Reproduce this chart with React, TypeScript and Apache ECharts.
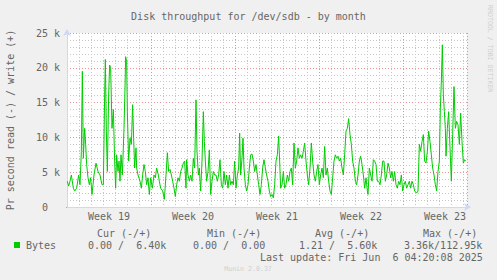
import React, { useEffect, useRef } from "react";
import * as echarts from "echarts";

// Hours since start of the 33.3-day window, value in kB/s (write, +)
const week19: [number, number][] = [
  [0.7, 3.7], [3.3, 3.0], [6.0, 3.7], [8.7, 4.6], [12.7, 2.7], [15.3, 2.3], [19.3, 2.7], [23.3, 4.6], [26.0, 3.2], [28.7, 8.0],
  [30.7, 19.5], [32.7, 7.0], [35.3, 11.3], [37.3, 9.0], [39.3, 6.1], [42.0, 4.2], [44.7, 3.2], [47.3, 4.2], [50.0, 1.8], [54.0, 4.6],
  [58.0, 6.3], [62.0, 5.1], [66.0, 4.6], [70.0, 3.2], [72.7, 3.2], [75.3, 16.1], [76.7, 21.2], [78.7, 10.9], [80.7, 5.1], [83.3, 16.1],
  [85.3, 20.4], [87.3, 20.0], [90.0, 11.3], [92.7, 14.0], [95.3, 6.6], [97.3, 2.7], [99.3, 7.5], [102.0, 5.1], [104.0, 6.6], [106.0, 3.7],
  [108.0, 7.5], [110.7, 4.6], [114.0, 11.3], [116.0, 17.1], [117.3, 21.6], [119.3, 20.9], [120.7, 13.7], [123.3, 6.6], [126.0, 9.9], [128.7, 9.0],
  [131.3, 14.7], [133.3, 9.9], [135.3, 5.6], [138.0, 8.5], [139.3, 5.6], [142.0, 4.6], [146.0, 3.7], [148.7, 2.7], [151.3, 4.6], [154.0, 6.1],
  [156.7, 5.1], [159.3, 3.2], [162.0, 4.2], [164.7, 1.8], [167.3, 4.2],
];
const week20: [number, number][] = [
  [170.7, 2.7], [174.0, 4.6], [176.7, 4.2], [179.3, 5.6], [182.7, 4.6], [184.7, 3.7], [187.3, 2.7], [191.3, 2.3], [194.7, 1.1], [198.0, 4.6],
  [200.7, 7.8], [203.3, 5.1], [206.0, 5.4], [208.7, 4.6], [211.3, 3.7], [214.0, 2.7], [216.7, 1.5], [219.3, 3.2], [222.0, 4.2], [224.7, 3.7],
  [227.3, 5.1], [230.0, 5.6], [232.7, 6.3], [235.3, 6.6], [238.0, 2.7], [239.3, 6.8], [242.0, 4.6], [244.7, 3.7], [247.3, 4.6], [250.0, 3.7],
  [252.7, 7.0], [255.3, 5.6], [258.0, 15.4], [260.0, 8.0], [262.7, 4.6], [264.7, 5.6], [267.3, 2.3], [270.0, 6.6], [272.7, 13.7], [274.7, 9.4],
  [276.7, 6.6], [279.3, 3.7], [282.0, 5.1], [284.7, 8.2], [287.3, 1.8], [290.0, 3.7], [292.7, 5.1], [295.3, 4.6], [298.0, 4.6], [300.7, 3.7],
  [303.3, 4.6], [306.0, 6.8], [308.7, 3.2], [311.3, 2.7], [314.0, 5.1], [316.7, 3.2], [319.3, 4.6], [322.0, 2.7], [324.7, 4.6], [327.3, 3.2],
  [330.0, 3.7], [332.7, 3.2], [335.3, 6.6],
];
const week21: [number, number][] = [
  [338.0, 2.7], [340.7, 4.6], [343.3, 5.6], [345.3, 10.6], [347.3, 4.6], [350.0, 7.0], [352.0, 9.9], [354.0, 5.6], [356.7, 3.2], [359.3, 2.3],
  [362.0, 3.2], [364.7, 5.6], [367.3, 7.5], [370.0, 7.6], [372.7, 6.6], [375.3, 5.1], [378.0, 6.1], [380.7, 4.6], [383.3, 3.2], [386.0, 1.8],
  [388.7, 3.2], [391.3, 5.6], [394.0, 6.8], [396.7, 5.6], [399.3, 4.6], [402.0, 3.7], [404.7, 2.3], [407.3, 1.5], [410.0, 1.8], [412.7, 1.3],
  [415.3, 3.2], [418.0, 6.6], [420.7, 7.5], [423.3, 10.2], [425.3, 6.6], [427.3, 2.7], [430.0, 3.2], [432.7, 5.1], [435.3, 2.7], [438.0, 3.2],
  [440.7, 4.6], [443.3, 3.7], [446.0, 5.1], [448.7, 5.6], [451.3, 3.2], [454.0, 9.2], [456.7, 5.6], [459.3, 6.6], [462.0, 8.5], [464.7, 7.0],
  [467.3, 7.5], [470.0, 7.0], [472.7, 8.0], [475.3, 9.2], [478.0, 6.6], [480.7, 4.6], [483.3, 3.2], [486.0, 5.6], [488.7, 9.2], [491.3, 6.6],
  [494.0, 4.6], [496.7, 3.7], [499.3, 5.1], [502.0, 6.1],
];
const week22: [number, number][] = [
  [504.7, 3.2], [507.3, 4.6], [510.0, 5.6], [512.7, 4.2], [515.3, 8.7], [518.0, 4.6], [520.7, 5.6], [523.3, 3.7], [526.0, 2.3], [528.7, 1.8],
  [531.3, 4.2], [534.0, 6.6], [536.7, 7.5], [539.3, 7.0], [542.0, 7.3], [544.7, 6.6], [547.3, 7.0], [550.0, 5.6], [552.7, 4.6], [555.3, 7.5],
  [558.0, 10.9], [560.7, 11.3], [563.3, 12.7], [566.0, 10.4], [568.7, 9.0], [571.3, 6.6], [574.0, 5.6], [576.7, 3.7], [579.3, 3.2], [582.0, 4.6],
  [584.7, 6.6], [587.3, 7.3], [590.0, 6.1], [592.7, 4.6], [595.3, 2.7], [598.0, 4.2], [600.7, 2.3], [602.0, 1.8], [604.7, 5.6], [607.3, 4.6],
  [610.0, 3.7], [612.7, 6.8], [615.3, 6.6], [618.0, 6.1], [620.7, 3.7], [623.3, 3.7], [626.0, 3.2], [628.7, 4.6], [631.3, 6.6], [634.0, 6.6],
  [636.7, 3.7], [639.3, 4.6], [642.0, 6.3], [644.7, 5.6], [647.3, 4.2], [650.0, 5.1], [652.7, 3.7], [655.3, 5.1], [658.0, 3.2], [660.7, 2.7],
  [663.3, 3.7], [666.0, 3.2], [668.7, 4.6], [671.3, 2.3],
];
const week23: [number, number][] = [
  [674.0, 3.2], [676.7, 3.7], [679.3, 2.7], [682.0, 3.2], [684.7, 3.7], [687.3, 2.7], [690.0, 3.7], [692.7, 3.2], [695.3, 2.3], [699.3, 2.0],
  [702.0, 2.3], [704.7, 9.0], [707.3, 8.0], [710.0, 9.4], [712.7, 10.4], [715.3, 6.6], [718.0, 6.3], [720.7, 8.0], [723.3, 10.9], [726.0, 9.4],
  [728.7, 7.5], [731.3, 5.6], [734.0, 4.6], [736.7, 3.2], [739.3, 2.3], [742.0, 5.1], [744.7, 6.6], [746.7, 14.2], [748.7, 18.1], [750.7, 23.3],
  [752.7, 16.1], [754.7, 13.7], [756.7, 11.3], [758.0, 7.3], [760.7, 11.3], [763.3, 13.7], [766.0, 8.5], [768.7, 3.7], [771.3, 10.4], [774.0, 17.3],
  [776.7, 11.3], [779.3, 12.3], [782.0, 11.8], [784.7, 9.0], [787.3, 13.5], [790.0, 9.4], [792.7, 6.3], [795.3, 6.8], [797.3, 6.6],
];

const weekNumbers = [19, 20, 21, 22, 23];
const legendHeaders = ["Cur (-/+)", "Min (-/+)", "Avg (-/+)", "Max (-/+)"];
const legendValues = ["0.00 /  6.40k", "0.00 /  0.00", "1.21 /  5.60k", "3.36k/112.95k"];
const seriesName = "Bytes";
const titleText = "Disk throughput for /dev/sdb - by month";
const yAxisTitle = "Pr second read (-) / write (+)";
const lastUpdate = "Last update: Fri Jun  6 04:20:08 2025";
const watermark = "RRDTOOL / TOBI OETIKER";
const version = "Munin 2.0.37";

const FONT = '"DejaVu Sans Mono", monospace';
const FONT_COLOR = "#666666";
const AXIS_COLOR = "#cfd6f8";
const MINOR = "#c6c6c6";
const MAJOR = "#e69494";
const LINE = "#00cc00";

export default function App() {
  const ref = useRef<HTMLDivElement>(null);

  useEffect(() => {
    if (!ref.current) return;
    const chart = echarts.init(ref.current, undefined, { renderer: "svg" });
    const data = [...week19, ...week20, ...week21, ...week22, ...week23].map(([h, k]) => [h, k * 1000]);

    const headerX = [97, 207, 315, 423];
    const valueX = [88, 193, 299, 404];
    const textStyle = (text: string, x: number, y: number, extra: any = {}) => ({
      type: "text",
      x,
      y,
      silent: true,
      style: {
        text,
        fill: FONT_COLOR,
        font: `10px ${FONT}`,
        align: "left",
        verticalAlign: "middle",
        ...extra,
      },
    });

    const graphics: any[] = [
      { type: "rect", silent: true, shape: { x: 14, y: 242, width: 6, height: 6 }, style: { fill: LINE } },
      textStyle(seriesName, 26, 245),
      ...legendHeaders.map((t, i) => textStyle(t, headerX[i], 233)),
      ...legendValues.map((t, i) => textStyle(t, valueX[i], 245)),
      textStyle(lastUpdate, 260, 257),
      textStyle(version, 248, 269, { align: "center", fill: "#cfcfcf", font: `6.6px ${FONT}` }),
      {
        type: "text",
        x: 490,
        y: 5,
        rotation: -Math.PI / 2,
        silent: true,
        style: { text: watermark, fill: "#cfcfcf", font: `6.6px ${FONT}`, align: "left", verticalAlign: "middle" },
      },
    ];

    chart.setOption({
      animation: false,
      backgroundColor: "#f0f0f0",
      title: {
        text: titleText,
        left: "center",
        top: 6,
        textStyle: { fontFamily: FONT, fontSize: 10, fontWeight: "normal", color: FONT_COLOR },
      },
      grid: {
        left: 67, right: 30, top: 33, bottom: 73, show: true, backgroundColor: "#ffffff", borderWidth: 0,
        containLabel: false, outerBoundsMode: "none",
      },
      xAxis: [
        {
          type: "value", min: 0, max: 800, interval: 24, position: "bottom",
          axisLine: { show: true, lineStyle: { color: "#000000", width: 1 } },
          axisTick: { show: false },
          axisLabel: { show: false },
          splitLine: { show: true, lineStyle: { color: MINOR, width: 1, type: [1, 2] } },
        },
        {
          type: "value", min: 0, max: 800, interval: 168, position: "bottom", offset: 1,
          axisLine: { show: true, symbol: ["none", "arrow"], symbolSize: [6, 7], symbolOffset: [0, 4], lineStyle: { color: AXIS_COLOR, width: 1 } },
          axisTick: { show: false },
          axisLabel: { show: false },
          splitLine: { show: true, lineStyle: { color: MAJOR, width: 1, type: [1, 2] } },
        },
        {
          type: "value", min: 0, max: 800, interval: 84, position: "bottom",
          axisLine: { show: false },
          axisTick: { show: false },
          splitLine: { show: false },
          axisLabel: {
            show: true, margin: 4, fontFamily: FONT, fontSize: 10, color: FONT_COLOR,
            formatter: (v: number) => (Math.round(v) % 168 === 84 ? `Week ${weekNumbers[(v - 84) / 168]}` : ""),
          },
        },
      ],
      yAxis: [
        {
          type: "value", min: 0, max: 25000, interval: 1000, position: "left",
          axisLine: { show: false },
          axisTick: { show: false },
          axisLabel: { show: false },
          splitLine: { show: true, lineStyle: { color: MINOR, width: 1, type: [1, 2] } },
        },
        {
          type: "value", min: 0, max: 25000, interval: 5000, position: "left",
          name: yAxisTitle, nameLocation: "middle", nameGap: 52,
          nameTextStyle: { fontFamily: FONT, fontSize: 10, color: FONT_COLOR },
          axisLine: { show: true, symbol: ["none", "arrow"], symbolSize: [6, 7], symbolOffset: [0, 4], lineStyle: { color: AXIS_COLOR, width: 1 } },
          axisTick: { show: false },
          splitLine: { show: true, lineStyle: { color: MAJOR, width: 1, type: [1, 2] } },
          axisLabel: {
            margin: 7, fontFamily: FONT, fontSize: 10, color: FONT_COLOR,
            formatter: (v: number) => (v === 0 ? "{z|0}" : `${v / 1000} k`),
            rich: { z: { fontFamily: FONT, fontSize: 10, color: FONT_COLOR, padding: [0, 12, 0, 0] } },
          },
        },
      ],
      series: [
        {
          name: seriesName,
          type: "line",
          xAxisIndex: 0,
          yAxisIndex: 1,
          data,
          showSymbol: false,
          symbol: "none",
          lineStyle: { color: LINE, width: 1 },
          itemStyle: { color: LINE },
          z: 5,
        },
      ],
      graphic: graphics,
    });

    return () => chart.dispose();
  }, []);

  return <div ref={ref} style={{ position: "fixed", left: 0, top: 0, width: 497, height: 280 }} />;
}
